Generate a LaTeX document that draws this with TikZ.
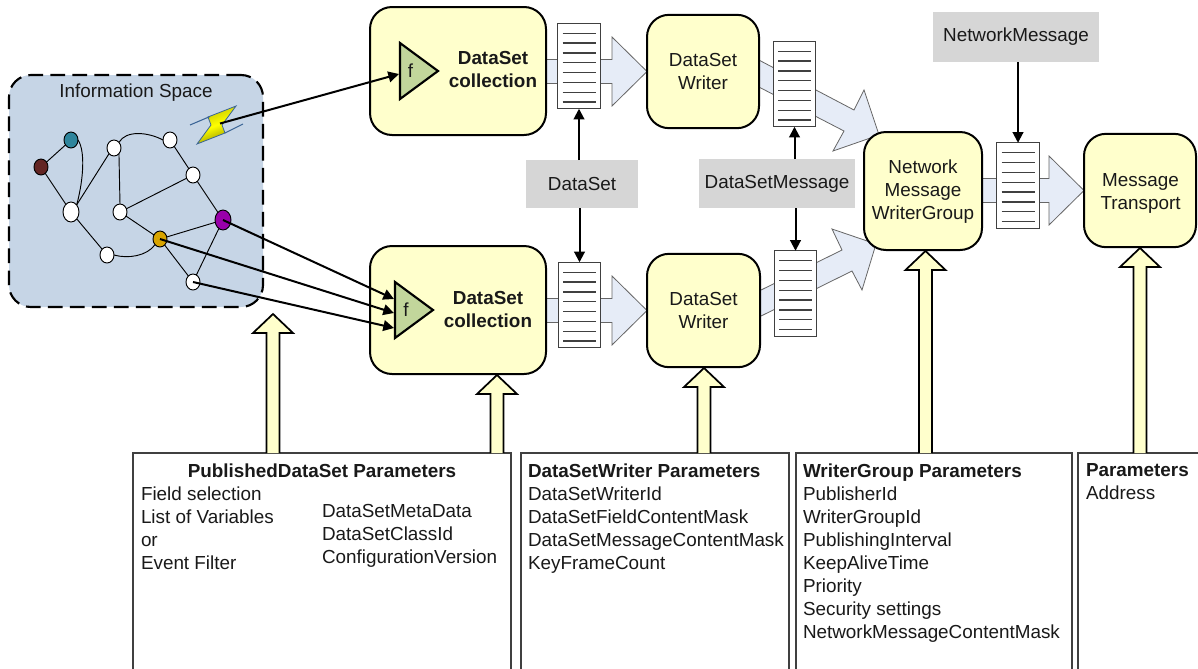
\documentclass[tikz,border=0pt]{standalone}
\usepackage{fontspec}
\setmainfont{Liberation Sans}
\usetikzlibrary{arrows.meta,calc,backgrounds,shapes.geometric}
\definecolor{boxyellow}{HTML}{FFFFCC}
\definecolor{infoblue}{HTML}{C6D5E6}
\definecolor{labelgrey}{HTML}{D6D6D6}
\definecolor{triangreen}{HTML}{C2D69B}
\definecolor{flowblue}{HTML}{E6ECF7}
\definecolor{tealdot}{HTML}{2F859C}
\definecolor{browndot}{HTML}{632523}
\definecolor{purpledot}{HTML}{9900AA}
\definecolor{golddot}{HTML}{D8A400}
\definecolor{boltline}{HTML}{3A6496}
\newcommand{\difont}{\fontsize{14.15}{17.25}\selectfont}
\tikzset{
  txt/.style={inner sep=0pt,outer sep=0pt,font=\difont,text=black!90},
  blockbox/.style={txt,draw=black,line width=1.5pt,fill=boxyellow,rounded corners=16.5pt,align=center},
  greylabel/.style={txt,fill=labelgrey},
  docbox/.style={draw=black!75,line width=0.8pt,fill=white,minimum width=31.9pt,minimum height=64.1pt,inner sep=0pt,outer sep=0pt},
  docline/.style={draw=black!75,line width=1pt},
  flow/.style={draw=black!60,line width=0.6pt,fill=flowblue,line join=miter},
  feed/.style={draw=black,line width=1.3pt,fill=boxyellow,line join=miter},
  conn/.style={draw=black,line width=1.5pt,-{Triangle[length=8pt,width=8pt]}},
  paramtext/.style={txt,align=left,anchor=north west},
  parambox/.style={draw=black!75,line width=0.9pt,fill=white},
  tri/.style={draw=black,line width=1.6pt,fill=triangreen,line join=miter},
  dot/.style={ellipse,draw=black,line width=0.7pt,fill=white,inner sep=0pt,outer sep=0pt,minimum width=10.5pt,minimum height=12pt},
  bigdot/.style={dot,minimum width=12pt,minimum height=15pt},
  edge/.style={draw=black,line width=0.7pt},
}
\newcommand{\docstack}[3]{%
  \node[docbox] (#1) at (#2,#3) {};
  \foreach \k in {0,...,7} {
    \draw[docline] ($(#1.center)+(-16.5,-32.8+9.85*\k)$) -- ($(#1.center)+(16.5,-32.8+9.85*\k)$);
  }%
}
\newcommand{\flowarrow}[1]{%
  \begin{scope}[on background layer]
    \draw[flow] ($(#1.west)+(-106,-12)$) -- ($(#1.west)+(-35,-12)$) -- ($(#1.west)+(-35,-34.5)$) -- (#1.west)
      -- ($(#1.west)+(-35,34.5)$) -- ($(#1.west)+(-35,12)$) -- ($(#1.west)+(-106,12)$);
  \end{scope}%
}
\newcommand{\feedarrow}[2]{%
  \coordinate (ft) at #1;
  \coordinate (fl) at ($(ft)+(-6.5,0)$);
  \coordinate (fr) at ($(ft)+(6.5,0)$);
  \draw[feed] (fl |- #2.north) -- ($(ft)+(-6.5,19)$) -- ($(ft)+(-20,19)$) -- (ft) -- ($(ft)+(20,19)$) -- ($(ft)+(6.5,19)$) -- (fr |- #2.north);%
}
\begin{document}
\begin{tikzpicture}[x=0.75pt,y=-0.75pt]
\useasboundingbox (0,0) rectangle (1198,668);

% Information space
\node[txt,draw=black,line width=1.6pt,dash pattern=on 11pt off 5.5pt,fill=infoblue,rounded corners=16.5pt,minimum width=190.5pt,minimum height=174pt] (info) at (136,191) {};
\node[txt] (infolabel) at (136,93) {Information Space};

% Graph nodes
\node[dot,fill=tealdot] (teal) at (71,140) {};
\node[dot,fill=browndot] (brown) at (41,167) {};
\node[bigdot] (big) at (71,212) {};
\node[dot] (wa) at (114,148) {};
\node[dot] (wb) at (170,140) {};
\node[dot] (wc) at (193,175) {};
\node[dot] (wd) at (120,212) {};
\node[bigdot,fill=purpledot] (purple) at (223,220) {};
\node[dot,fill=golddot] (gold) at (160,239) {};
\node[dot] (we) at (107,255) {};
\node[dot] (wf) at (193,282) {};
\draw[edge] (teal) -- (brown);
\draw[edge] (brown) -- (big);
\draw[edge] (teal.east) .. controls (85,150) and (84,178) .. (big.north east);
\draw[edge] (big.north east) -- (wa.south west);
\draw[edge] (wa.south east) -- (wd.north);
\draw[edge] (wa.north east) .. controls (126,130) and (148,132) .. (wb.west);
\draw[edge] (wb) -- (wc);
\draw[edge] (wc) -- (wd);
\draw[edge] (wc) -- (purple);
\draw[edge] (wd) -- (gold);
\draw[edge] (gold) -- (purple);
\draw[edge] (big) -- (we);
\draw[edge] (we.east) .. controls (128,259) and (147,256) .. (gold.south west);
\draw[edge] (gold) -- (wf);
\draw[edge] (wf) -- (purple);

% Lightning bolt
\path[top color=yellow!75!black,bottom color=yellow!55!black,middle color=yellow,shading angle=20,draw=boltline,line width=0.6pt]
  (236,106) -- (208,117) -- (211,125) -- (197,144) -- (225,133) -- (222,125) -- cycle;
\draw[draw=boltline,line width=0.8pt] (190,125) -- (210,116.5);
\draw[draw=boltline,line width=0.8pt] (243,124) -- (225,133);
\coordinate (bolt) at (220,123.5);

% Main blocks
\node[blockbox,minimum width=132pt,minimum height=96pt] (cola) at (458,71) {};
\node[blockbox,minimum width=132pt,minimum height=96pt] (colb) at (458,310) {};
\node[blockbox,minimum width=84pt,minimum height=85pt] (wra) at (703,71.5) {DataSet\\Writer};
\node[blockbox,minimum width=84.75pt,minimum height=85pt] (wrb) at (703.5,310.5) {DataSet\\Writer};
\node[blockbox,minimum width=88.5pt,minimum height=88.5pt] (net) at (923,191) {};
\node[blockbox,minimum width=84pt,minimum height=85pt] (trans) at (1140,190.5) {};
\node[txt,align=center] (nettext) at (923,192) {Network\\Message\\WriterGroup};
\node[txt,align=center] (transtext) at (1140.5,193) {Message\\Transport};
\node[txt,align=center,font=\difont\bfseries] (colatext) at (493,70) {DataSet\\collection};
\node[txt,align=center,font=\difont\bfseries] (colbtext) at (488,309) {DataSet\\collection};

% Triangles
\draw[tri] (400,43) -- (438,71) -- (400,99) -- cycle;
\draw[tri] (395,282) -- (433,310) -- (395,338) -- cycle;
\node[txt] (fa) at (410.5,71) {f};
\node[txt] (fb) at (406,310) {f};
\coordinate (ina) at (399,74);
\coordinate (inb) at (394,299);
\coordinate (inc) at (394,313);
\coordinate (ind) at (394,328);

% Block flow arrows
\flowarrow{wra}
\flowarrow{wrb}
\flowarrow{trans}
\begin{scope}[on background layer]
  \draw[flow] (755,58) -- (854,110) -- (864,90) -- (879,135) -- (833,151) -- (844,131) -- (755,85);
  \draw[flow] (755,293) -- (842,250) -- (832,229) -- (876,244) -- (862,290) -- (852,271) -- (755,319);
\end{scope}

% Document stacks
\docstack{sa}{579}{66}
\docstack{sb}{579.5}{305}
\docstack{sc}{794.5}{84}
\docstack{sd}{795.5}{293.5}
\docstack{se}{1018}{185.5}

% Grey labels
\node[greylabel,minimum width=84pt,minimum height=36pt] (lds) at (582,184) {DataSet};
\node[greylabel,minimum width=117pt,minimum height=36.75pt] (ldm) at (777,183.5) {DataSetMessage};
\node[greylabel,minimum width=124.5pt,minimum height=37.5pt] (lnm) at (1016,37) {NetworkMessage};

% Thin connectors
\draw[conn] (sa.south |- lds.north) -- (sa.south);
\draw[conn] (sb.north |- lds.south) -- (sb.north);
\draw[conn] (sc.south |- ldm.north) -- (sc.south);
\draw[conn] (sd.north |- ldm.south) -- (sd.north);
\draw[conn] (se.north |- lnm.south) -- (se.north);
\draw[conn] (bolt) -- (ina);
\draw[conn] (purple.center) -- (inb);
\draw[conn] (gold.center) -- (inc);
\draw[conn] (wf.center) -- (ind);

% Parameter boxes
\path[parambox] (133,453) rectangle (511,680);
\coordinate (pdstop) at (322,453);
\path[parambox] (521,453) rectangle (789,680);
\coordinate (dswtop) at (655,453);
\path[parambox] (796,453) rectangle (1072,680);
\coordinate (wgtop) at (934,453);
\path[parambox] (1078,453) rectangle (1210,680);
\coordinate (ptop) at (1144,453);

\node[txt,font=\difont\bfseries] (pdstitle) at (322,470.5) {PublishedDataSet Parameters};
\node[paramtext] (pdsleft) at (141,486.5) {Field selection\\List of Variables\\or\\Event Filter};
\node[paramtext] (pdsright) at (322,504.5) {DataSetMetaData\\DataSetClassId\\ConfigurationVersion};
\node[paramtext] (dswtext) at (528,463.5) {\textbf{DataSetWriter Parameters}\\DataSetWriterId\\DataSetFieldContentMask\\DataSetMessageContentMask\\KeyFrameCount};
\node[paramtext] (wgtext) at (803,463.5) {\textbf{WriterGroup Parameters}\\PublisherId\\WriterGroupId\\PublishingInterval\\KeepAliveTime\\Priority\\Security settings\\NetworkMessageContentMask};
\node[paramtext] (ptext) at (1086,463.5) {\textbf{Parameters}\\Address};

% Yellow feed arrows
\feedarrow{(273,314)}{pdstop}
\feedarrow{(497,375)}{pdstop}
\feedarrow{(704,368)}{dswtop}
\feedarrow{(925.5,251)}{wgtop}
\feedarrow{(1140,248)}{ptop}
\end{tikzpicture}
\end{document}
